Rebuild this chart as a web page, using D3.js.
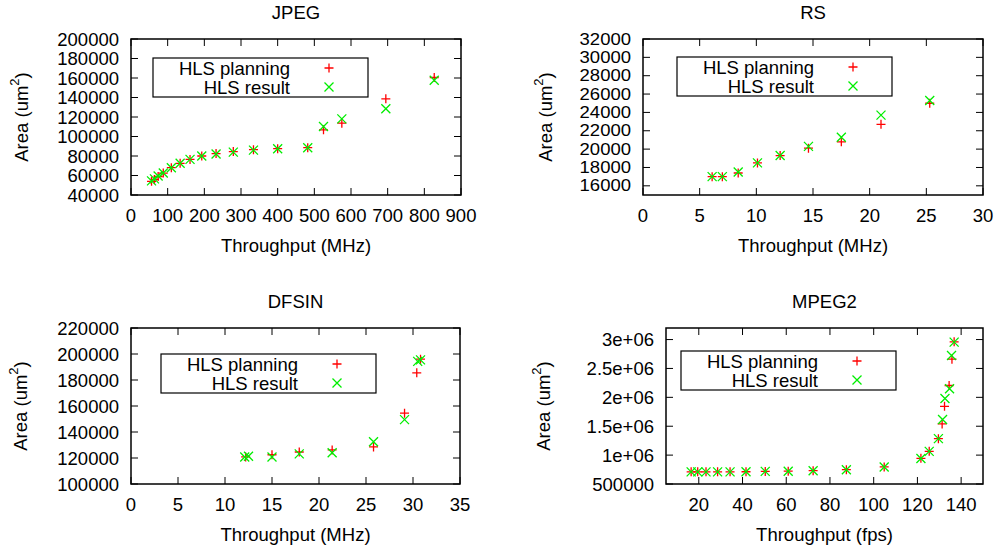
<!DOCTYPE html>
<html>
<head>
<meta charset="utf-8">
<script src="https://cdn.jsdelivr.net/npm/d3@7"></script>
<style>
  body { margin: 0; background: #fff; }
  svg text { font-family: "Liberation Sans", Arial, sans-serif; fill: #000; }
</style>
</head>
<body>
<svg id="chart" width="1000" height="548"></svg>
<script>
// ---- data ----
const seriesNames = ["HLS planning", "HLS result"];

const jpegX = [56, 64, 74, 88, 110, 134, 161, 193, 232, 279, 334, 400, 482, 525, 575, 695, 827];
const jpegPlanning = [54000, 56000, 59000, 62500, 68000, 72500, 76500, 80000, 82500, 84500, 86500, 87500, 88500, 106800, 113700, 138600, 160500];
const jpegResult = [54500, 56500, 59500, 62500, 68000, 72500, 76500, 80000, 82000, 84000, 86000, 87500, 88500, 110300, 118100, 128400, 157700];

const rsX = [6.1, 7.0, 8.4, 10.1, 12.1, 14.6, 17.5, 21.0, 25.3];
const rsPlanning = [17000, 17000, 17400, 18500, 19300, 20100, 20800, 22700, 25000];
const rsResult = [17000, 17000, 17500, 18500, 19300, 20300, 21300, 23700, 25300];

const dfsinPlanning = [[12.2, 120800], [15.0, 122500], [17.9, 124600], [21.4, 126200], [25.8, 128500], [29.1, 154500], [30.4, 185500], [30.8, 196000]];
const dfsinResult = [[12.1, 120800], [12.5, 121300], [15.0, 120800], [17.9, 123200], [21.4, 124000], [25.8, 132500], [29.1, 149500], [30.5, 194300], [30.8, 195500]];

const mpegPlanning = [[16.5, 710000], [19.5, 710000], [23.3, 710000], [28.6, 710000], [34.3, 710000], [41.6, 712000], [50.4, 718000], [60.9, 722000], [72.3, 730000], [87.5, 748000], [104.8, 795000], [121.6, 945000], [125.4, 1065000], [129.6, 1285000], [131.3, 1540000], [132.4, 1845000], [134.5, 2205000], [135.8, 2660000], [136.8, 2960000]];
const mpegResult = [[16.5, 710000], [19.5, 710000], [23.3, 710000], [28.6, 710000], [34.3, 710000], [41.6, 712000], [50.4, 718000], [60.9, 722000], [72.3, 730000], [87.5, 748000], [104.8, 795000], [121.6, 940000], [125.4, 1065000], [129.6, 1285000], [131.5, 1615000], [132.6, 1980000], [134.7, 2150000], [135.6, 2725000], [136.8, 2955000]];

// tick values / labels
const jpegXTicks = d3.range(0, 901, 100);
const jpegYTicks = d3.range(40000, 200001, 20000);
const rsXTicks = d3.range(0, 31, 5);
const rsYTicks = d3.range(16000, 32001, 2000);
const dfsinXTicks = d3.range(0, 36, 5);
const dfsinYTicks = d3.range(100000, 220001, 20000);
const mpegXTicks = d3.range(20, 141, 20);
const mpegYTicks = [500000, 1000000, 1500000, 2000000, 2500000, 3000000];
const mpegYLabels = ["500000", "1e+06", "1.5e+06", "2e+06", "2.5e+06", "3e+06"];

const zip = (xs, ys) => xs.map((x, i) => [x, ys[i]]);

const panels = [
  { title: "JPEG", xLabel: "Throughput (MHz)",
    box: [131, 39, 461, 195], xDom: [0, 900], yDom: [40000, 200000],
    xTicks: jpegXTicks, yTicks: jpegYTicks,
    planning: zip(jpegX, jpegPlanning), result: zip(jpegX, jpegResult),
    legend: [153, 58], yLabelX: 21 },
  { title: "RS", xLabel: "Throughput (MHz)",
    box: [643, 39, 983, 195], xDom: [0, 30], yDom: [15000, 32000],
    xTicks: rsXTicks, yTicks: rsYTicks,
    planning: zip(rsX, rsPlanning), result: zip(rsX, rsResult),
    legend: [677, 57], yLabelX: 545, yTickFont: 16 },
  { title: "DFSIN", xLabel: "Throughput (MHz)",
    box: [131, 328, 460, 484], xDom: [0, 35], yDom: [100000, 220000],
    xTicks: dfsinXTicks, yTicks: dfsinYTicks,
    planning: dfsinPlanning, result: dfsinResult,
    legend: [161, 354], yLabelX: 20 },
  { title: "MPEG2", xLabel: "Throughput (fps)",
    box: [666, 328, 983, 484], xDom: [5, 150], yDom: [500000, 3200000],
    xTicks: mpegXTicks, yTicks: mpegYTicks, yLabels: mpegYLabels,
    planning: mpegPlanning, result: mpegResult,
    legend: [681, 351], yLabelX: 543 }
];

const colors = ["#ff0000", "#00ee00"];
const plusPath = "M-4.5,0H4.5M0,-4.5V4.5";
const crossPath = "M-4.5,-4.5L4.5,4.5M-4.5,4.5L4.5,-4.5";
const fontSize = 18.5;
const tickLen = 7;

const svg = d3.select("#chart");
svg.append("rect").attr("width", 1000).attr("height", 548).attr("fill", "#fff");

panels.forEach(p => {
  const [x0, y0, x1, y1] = p.box;
  const x = d3.scaleLinear().domain(p.xDom).range([x0, x1]);
  const y = d3.scaleLinear().domain(p.yDom).range([y1, y0]);
  const g = svg.append("g");

  // mirrored inner ticks
  const ticks = g.append("g").attr("stroke", "#000").attr("stroke-width", 1);
  p.xTicks.forEach(t => {
    const px = x(t);
    ticks.append("line").attr("x1", px).attr("x2", px).attr("y1", y1).attr("y2", y1 - tickLen);
    ticks.append("line").attr("x1", px).attr("x2", px).attr("y1", y0).attr("y2", y0 + tickLen);
  });
  p.yTicks.forEach(t => {
    const py = y(t);
    ticks.append("line").attr("x1", x0).attr("x2", x0 + tickLen).attr("y1", py).attr("y2", py);
    ticks.append("line").attr("x1", x1).attr("x2", x1 - tickLen).attr("y1", py).attr("y2", py);
  });

  // tick labels
  g.selectAll(".xt").data(p.xTicks).enter().append("text")
    .attr("x", d => x(d)).attr("y", y1 + 20)
    .attr("text-anchor", "middle").attr("dominant-baseline", "central")
    .attr("font-size", fontSize).text(d => d);

  // tightly packed y labels get a smaller font, stretched back to the same width
  const yf = p.yTickFont || fontSize;
  g.selectAll(".yt").data(p.yTicks).enter().append("text")
    .attr("transform", d => `translate(${x0 - 12},${y(d)}) scale(${fontSize / yf},1)`)
    .attr("text-anchor", "end").attr("dominant-baseline", "central")
    .attr("font-size", yf).text((d, i) => p.yLabels ? p.yLabels[i] : d);

  // border
  g.append("rect").attr("x", x0).attr("y", y0)
    .attr("width", x1 - x0).attr("height", y1 - y0)
    .attr("fill", "none").attr("stroke", "#000").attr("stroke-width", 1.5);

  // title + axis labels
  g.append("text").attr("x", (x0 + x1) / 2).attr("y", y0 - 27)
    .attr("text-anchor", "middle").attr("dominant-baseline", "central")
    .attr("font-size", fontSize).text(p.title);
  g.append("text").attr("x", (x0 + x1) / 2).attr("y", y1 + 50)
    .attr("text-anchor", "middle").attr("dominant-baseline", "central")
    .attr("font-size", fontSize).text(p.xLabel);
  const yl = g.append("text")
    .attr("transform", `translate(${p.yLabelX},${(y0 + y1) / 2}) rotate(-90)`)
    .attr("text-anchor", "middle").attr("dominant-baseline", "central")
    .attr("font-size", fontSize);
  yl.append("tspan").text("Area (um");
  yl.append("tspan").attr("dy", -7).attr("font-size", 13).text("2");
  yl.append("tspan").attr("dy", 7).text(")");

  // legend
  const [lx, ly] = p.legend;
  const lg = g.append("g").attr("transform", `translate(${lx},${ly})`);
  lg.append("rect").attr("width", 215).attr("height", 39)
    .attr("fill", "#fff").attr("stroke", "#000").attr("stroke-width", 1.2);
  seriesNames.forEach((name, i) => {
    lg.append("text").attr("x", 137).attr("y", 10 + i * 19)
      .attr("text-anchor", "end").attr("dominant-baseline", "central")
      .attr("font-size", fontSize).text(name);
    lg.append("path").attr("d", i === 0 ? plusPath : crossPath)
      .attr("transform", `translate(176,${10 + i * 19})`)
      .attr("stroke", colors[i]).attr("stroke-width", 1.3).attr("fill", "none");
  });

  // points
  [p.planning, p.result].forEach((pts, i) => {
    g.append("g").selectAll("path").data(pts).enter().append("path")
      .attr("d", i === 0 ? plusPath : crossPath)
      .attr("transform", d => `translate(${x(d[0])},${y(d[1])})`)
      .attr("stroke", colors[i]).attr("stroke-width", 1.3).attr("fill", "none");
  });
});
</script>
</body>
</html>
